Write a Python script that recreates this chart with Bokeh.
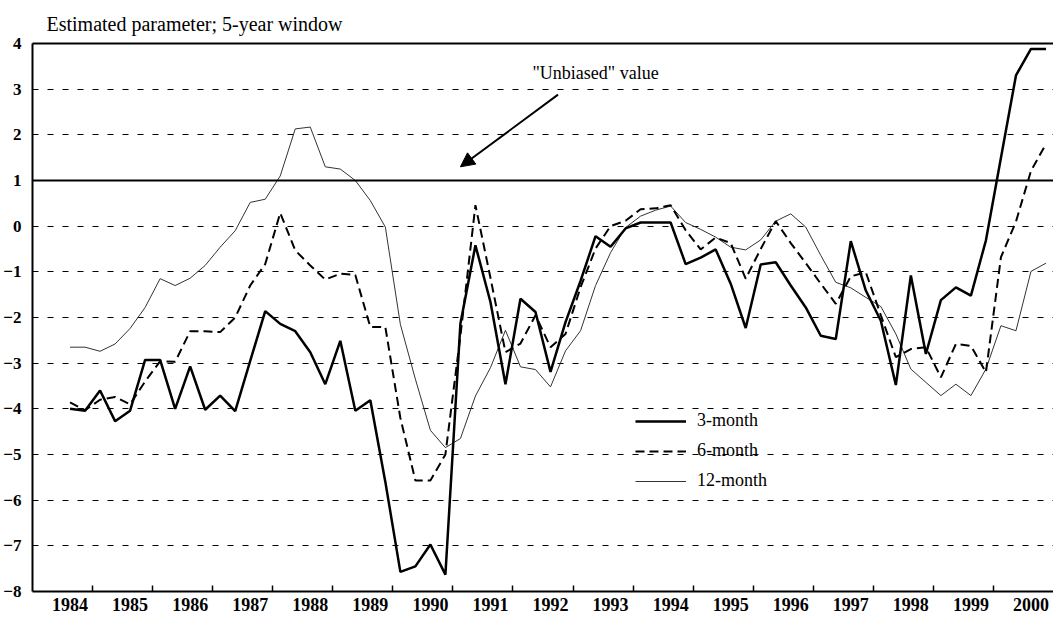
from bokeh.plotting import figure
from bokeh.models import (Range1d, FixedTicker, LinearAxis, Span, Label, Arrow,
                          NormalHead, Legend, LegendItem, ColumnDataSource)
from bokeh.embed import file_html
from bokeh.resources import INLINE

# ---------------- data (quarterly) ----------------
year_labels = ["1984", "1985", "1986", "1987", "1988", "1989", "1990", "1991",
               "1992", "1993", "1994", "1995", "1996", "1997", "1998", "1999", "2000"]

# series start in the 3rd quarterly slot of 1984 and run to the end of 2000
start_slot = 2

m3 = [-4.00, -4.04, -3.60, -4.27, -4.04, -2.93, -2.93, -4.00, -3.07, -4.02,
      -3.71, -4.05, -2.95, -1.86, -2.14, -2.30, -2.76, -3.46, -2.51, -4.04,
      -3.81, -5.60, -7.57, -7.45, -6.97, -7.63, -2.13, -0.42, -1.66, -3.46,
      -1.59, -1.88, -3.19, -2.10, -1.20, -0.22, -0.45, -0.05, 0.08, 0.08,
      0.08, -0.83, -0.69, -0.51, -1.26, -2.23, -0.84, -0.79, -1.30, -1.78,
      -2.40, -2.47, -0.33, -1.41, -2.07, -3.48, -1.08, -2.80, -1.62, -1.34,
      -1.52, -0.31, 1.50, 3.30, 3.88, 3.88]

m6 = [-3.86, -4.03, -3.80, -3.74, -3.90, -3.40, -2.96, -2.97, -2.30, -2.30,
      -2.32, -2.00, -1.30, -0.83, 0.29, -0.53, -0.86, -1.17, -1.04, -1.07,
      -2.21, -2.21, -4.20, -5.57, -5.57, -5.00, -2.40, 0.46, -1.13, -2.76,
      -2.57, -1.95, -2.65, -2.36, -1.34, -0.49, 0.00, 0.12, 0.37, 0.39,
      0.46, -0.09, -0.51, -0.25, -0.37, -1.15, -0.50, 0.11, -0.37, -0.81,
      -1.26, -1.70, -1.10, -1.01, -1.95, -2.87, -2.69, -2.65, -3.31, -2.58,
      -2.62, -3.20, -0.68, 0.10, 1.21, 1.80]

m12 = [-2.65, -2.65, -2.74, -2.58, -2.24, -1.78, -1.15, -1.30, -1.14, -0.86,
       -0.46, -0.10, 0.52, 0.59, 1.10, 2.13, 2.17, 1.30, 1.25, 1.00,
       0.56, -0.02, -2.15, -3.35, -4.47, -4.85, -4.65, -3.72, -3.10, -2.28,
       -3.08, -3.14, -3.52, -2.73, -2.29, -1.30, -0.58, -0.03, 0.22, 0.35,
       0.44, 0.08, -0.07, -0.24, -0.46, -0.52, -0.30, 0.11, 0.27, -0.02,
       -0.64, -1.23, -1.35, -1.56, -1.76, -2.36, -3.13, -3.42, -3.71, -3.46,
       -3.71, -3.13, -2.18, -2.29, -0.99, -0.81]

y_ticks = [-8, -7, -6, -5, -4, -3, -2, -1, 0, 1, 2, 3, 4]
unbiased_value = 1

# ---------------- figure ----------------
n_slots = 4 * len(year_labels)
x = list(range(start_slot, start_slot + len(m3)))
src = ColumnDataSource(dict(x=x, m3=m3, m6=m6, m12=m12))

FONT = "Liberation Serif"

p = figure(width=1053, height=619,
           x_range=Range1d(-0.5, n_slots - 0.5), y_range=Range1d(-8, 4),
           output_backend="svg", toolbar_location=None,
           min_border_left=27, min_border_right=0,
           min_border_top=43, min_border_bottom=28)
p.outline_line_color = None
p.background_fill_color = "white"
p.border_fill_color = "white"

# title
p.title.text = "Estimated parameter; 5-year window"
p.title.text_font = FONT
p.title.text_font_size = "20px"
p.title.text_font_style = "normal"
p.title.text_color = "black"
p.title.align = "left"
p.title.offset = 14
p.title.standoff = 17

# grid
p.xgrid.visible = False
p.ygrid.ticker = FixedTicker(ticks=[t for t in y_ticks if -8 < t < 4])
p.ygrid.grid_line_color = "black"
p.ygrid.grid_line_width = 1.2
p.ygrid.grid_line_dash = "6 9"

# y axis
p.yaxis.ticker = FixedTicker(ticks=y_ticks)
p.yaxis.axis_line_width = 2
p.yaxis.axis_line_color = "black"
p.yaxis.major_tick_in = 0
p.yaxis.major_tick_out = 0
p.yaxis.minor_tick_in = 0
p.yaxis.minor_tick_out = 0
p.yaxis.major_label_standoff = 11
p.yaxis.major_label_text_font = FONT
p.yaxis.major_label_text_font_style = "bold"
p.yaxis.major_label_text_font_size = "17px"
p.yaxis.major_label_text_color = "black"

# x axis: labels at mid-year slots, tick marks on year boundaries
label_pos = [4 * k + 2 for k in range(len(year_labels))]
bound_pos = [4 * k + 3.5 for k in range(len(year_labels) - 1)]
p.xaxis.ticker = FixedTicker(ticks=label_pos, minor_ticks=bound_pos)
p.xaxis.major_label_overrides = {pos: lab for pos, lab in zip(label_pos, year_labels)}
p.xaxis.axis_line_width = 2
p.xaxis.axis_line_color = "black"
p.xaxis.major_tick_in = 0
p.xaxis.major_tick_out = 0
p.xaxis.minor_tick_in = 6
p.xaxis.minor_tick_out = 0
p.xaxis.minor_tick_line_width = 1.5
p.xaxis.minor_tick_line_color = "black"
p.xaxis.major_label_standoff = 6
p.xaxis.major_label_text_font = FONT
p.xaxis.major_label_text_font_style = "bold"
p.xaxis.major_label_text_font_size = "18px"
p.xaxis.major_label_text_color = "black"

# top frame line
top = LinearAxis(ticker=FixedTicker(ticks=[]), major_label_text_font_size="0px",
                 axis_line_width=2, axis_line_color="black",
                 major_tick_in=0, major_tick_out=0, minor_tick_in=0, minor_tick_out=0)
p.add_layout(top, "above")

# unbiased reference line
p.add_layout(Span(location=unbiased_value, dimension="width",
                  line_color="black", line_width=2))

# series
r12 = p.line("x", "m12", source=src, line_color="#333333", line_width=1)
r6 = p.line("x", "m6", source=src, line_color="black", line_width=2, line_dash="9 5")
r3 = p.line("x", "m3", source=src, line_color="black", line_width=2.5)

legend = Legend(items=[LegendItem(label="3-month", renderers=[r3]),
                       LegendItem(label="6-month", renderers=[r6]),
                       LegendItem(label="12-month", renderers=[r12])],
                location=(603, 100), orientation="vertical",
                glyph_width=51, glyph_height=20, label_height=20,
                label_standoff=11, spacing=9, padding=0, margin=0,
                border_line_color=None, background_fill_alpha=0,
                label_text_font=FONT, label_text_font_size="18px",
                label_text_color="black")
p.add_layout(legend)

# annotations
p.add_layout(Label(x=37.0, y=3.36, text='"Unbiased" value',
                   text_font=FONT, text_font_size="18px", text_color="black",
                   text_align="center", text_baseline="middle"))
p.add_layout(Arrow(end=NormalHead(size=14, fill_color="black", line_color="black"),
                   x_start=34.5, y_start=2.88, x_end=28.0, y_end=1.30,
                   line_color="black", line_width=2))

open("out.html", "w").write(file_html(p, INLINE))
